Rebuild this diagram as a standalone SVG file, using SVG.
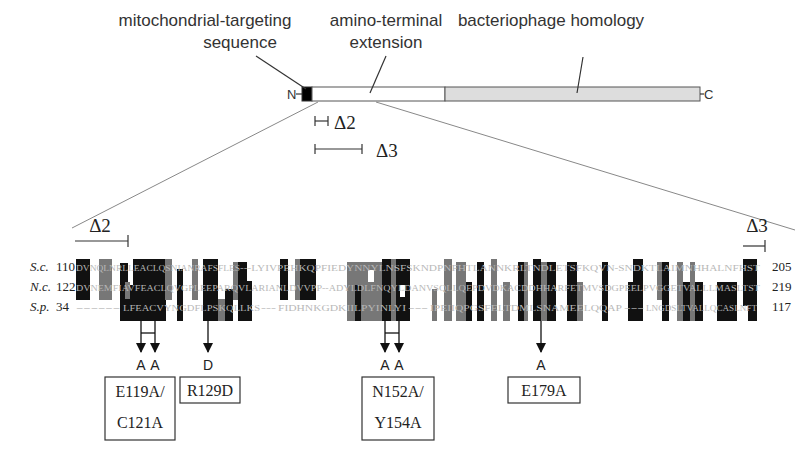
<svg xmlns="http://www.w3.org/2000/svg" width="800" height="457" viewBox="0 0 800 457">
<defs>
<style>
.lab{font-family:"Liberation Sans",Arial,sans-serif;font-size:17px;fill:#333}
.nc{font-family:"Liberation Sans",Arial,sans-serif;font-size:13px;fill:#333}
.del{font-family:"Liberation Serif","Times New Roman",serif;font-size:19px;fill:#222}
.sp{font-family:"Liberation Serif","Times New Roman",serif;font-size:13px;font-style:italic;fill:#222}
.num{font-family:"Liberation Serif","Times New Roman",serif;font-size:13px;fill:#222}
.seq{font-family:"Liberation Serif","Times New Roman",serif;font-size:9px;fill:#b8b8b8}
.mut{font-family:"Liberation Sans",Arial,sans-serif;font-size:14px;fill:#222}
.box{font-family:"Liberation Serif","Times New Roman",serif;font-size:16px;fill:#222}
.ln{stroke:#333;stroke-width:1.2;fill:none}
.zl{stroke:#888;stroke-width:1;fill:none}
.b{fill:#111}
.g{fill:#777}
.w{fill:#fff}
.ar{stroke:#111;stroke-width:1.3;fill:none}
.bx{fill:#fff;stroke:#333;stroke-width:1.2}
</style>
<marker id="ah" markerWidth="10" markerHeight="10" refX="9" refY="5" orient="auto" markerUnits="userSpaceOnUse">
<path d="M0,0 L10,5 L0,10 Z" fill="#111"/>
</marker>
</defs>
<rect width="800" height="457" fill="#fff"/>

<g id="protein">
<line class="ln" x1="296" y1="94" x2="302" y2="94"/>
<text class="nc" x="287" y="99">N</text>
<rect x="302" y="87" width="10" height="14" fill="#000" stroke="#333"/>
<rect x="312" y="87" width="133" height="14" fill="#fff" stroke="#555"/>
<rect x="445" y="87" width="255" height="14" fill="#ddd" stroke="#555"/>
<line class="ln" x1="700" y1="94" x2="704" y2="94"/>
<text class="nc" x="704" y="99">C</text>
</g>

<g id="labels-top">
<text class="lab" x="205" y="26" text-anchor="middle">mitochondrial-targeting</text>
<text class="lab" x="240" y="48" text-anchor="middle">sequence</text>
<text class="lab" x="386" y="26" text-anchor="middle">amino-terminal</text>
<text class="lab" x="386" y="48" text-anchor="middle">extension</text>
<text class="lab" x="551" y="26" text-anchor="middle">bacteriophage homology</text>
</g>

<g id="connectors">
<line class="ln" x1="256" y1="56" x2="306" y2="89"/>
<line class="ln" x1="386" y1="56" x2="370" y2="93"/>
<line class="ln" x1="583" y1="57" x2="577" y2="93"/>
<line class="zl" x1="318" y1="102" x2="72" y2="228"/>
<line class="zl" x1="376" y1="102" x2="795" y2="230"/>
</g>

<g id="deletions">
<line class="ln" x1="315" y1="121" x2="328" y2="121"/>
<line class="ln" x1="315" y1="116" x2="315" y2="126"/>
<line class="ln" x1="328" y1="116" x2="328" y2="126"/>
<text class="del" x="334" y="129">Δ2</text>
<line class="ln" x1="315" y1="149" x2="362" y2="149"/>
<line class="ln" x1="315" y1="144" x2="315" y2="154"/>
<line class="ln" x1="362" y1="144" x2="362" y2="154"/>
<text class="del" x="376" y="157">Δ3</text>
<line class="ln" x1="75" y1="241" x2="128" y2="241"/>
<line class="ln" x1="128" y1="235" x2="128" y2="247"/>
<text class="del" x="100" y="232" text-anchor="middle">Δ2</text>
<line class="ln" x1="743" y1="246" x2="765" y2="246"/>
<line class="ln" x1="765" y1="240" x2="765" y2="252"/>
<text class="del" x="757" y="232" text-anchor="middle">Δ3</text>
</g>

<g id="blocks">
<rect class="b" x="76" y="259" width="14" height="41"/>
<rect class="g" x="99" y="259" width="13" height="41"/>
<rect class="b" x="120" y="263" width="8" height="58"/>
<rect class="b" x="133" y="259" width="33" height="62"/>
<rect class="b" x="128" y="285" width="5" height="36"/>
<rect class="g" x="125" y="282" width="5" height="17"/>
<rect class="g" x="165" y="259" width="7" height="41"/>
<rect class="b" x="177" y="269" width="6" height="52"/>
<rect class="g" x="192" y="259" width="6" height="41"/>
<rect class="b" x="203" y="259" width="15" height="62"/>
<rect class="g" x="218" y="299" width="7" height="22"/>
<rect class="b" x="225" y="289" width="8" height="32"/>
<rect class="g" x="233" y="262" width="5" height="38"/>
<rect class="b" x="238" y="262" width="9" height="59"/>
<rect class="b" x="247" y="281" width="5" height="40"/>
<rect class="b" x="280" y="259" width="8" height="41"/>
<rect class="g" x="295" y="259" width="5" height="41"/>
<rect class="b" x="300" y="259" width="16" height="41"/>
<rect class="g" x="347" y="262" width="35" height="59"/>
<rect class="w" x="368" y="270" width="6" height="12"/>
<rect class="b" x="355" y="285" width="6" height="36"/>
<rect class="b" x="382" y="259" width="9" height="62"/>
<rect class="g" x="391" y="259" width="5" height="62"/>
<rect class="b" x="396" y="259" width="14" height="62"/>
<rect class="w" x="400" y="285" width="5" height="12"/>
<rect class="g" x="432" y="289" width="5" height="32"/>
<rect class="g" x="444" y="259" width="8" height="62"/>
<rect class="g" x="456" y="262" width="10" height="59"/>
<rect class="b" x="466" y="282" width="6" height="39"/>
<rect class="b" x="477" y="262" width="7" height="59"/>
<rect class="g" x="491" y="259" width="6" height="62"/>
<rect class="g" x="503" y="282" width="7" height="39"/>
<rect class="b" x="518" y="262" width="6" height="59"/>
<rect class="g" x="524" y="262" width="4" height="59"/>
<rect class="b" x="533" y="259" width="8" height="62"/>
<rect class="g" x="541" y="262" width="6" height="59"/>
<rect class="b" x="547" y="262" width="9" height="59"/>
<rect class="b" x="567" y="262" width="10" height="59"/>
<rect class="g" x="577" y="282" width="6" height="39"/>
<rect class="b" x="602" y="262" width="6" height="59"/>
<rect class="b" x="628" y="282" width="7" height="39"/>
<rect class="b" x="633" y="259" width="10" height="62"/>
<rect class="g" x="657" y="262" width="5" height="38"/>
<rect class="b" x="662" y="262" width="7" height="59"/>
<rect class="g" x="677" y="262" width="6" height="59"/>
<rect class="b" x="683" y="282" width="7" height="39"/>
<rect class="g" x="690" y="262" width="5" height="59"/>
<rect class="b" x="695" y="282" width="8" height="39"/>
<rect class="b" x="717" y="282" width="20" height="39"/>
<rect class="b" x="743" y="259" width="14" height="62"/>
<rect class="w" x="743" y="306" width="5" height="15"/>
</g>

<g id="sequences">
<text class="sp" x="30" y="271">S.c.</text>
<text class="num" x="56" y="271">110</text>
<text class="sp" x="30" y="291">N.c.</text>
<text class="num" x="56" y="291">122</text>
<text class="sp" x="30" y="311">S.p.</text>
<text class="num" x="56" y="311">34</text>
<text class="num" x="772" y="271">205</text>
<text class="num" x="772" y="291">219</text>
<text class="num" x="772" y="311">117</text>
<text class="seq" x="76" y="271" textLength="164" lengthAdjust="spacingAndGlyphs">DVNQLNRLLEACLQSNIANRAFSFLES</text>
<text class="seq" x="240" y="271" textLength="520" lengthAdjust="spacingAndGlyphs">---LYIVPEHKQPFIEDYNNYLNSFSKNDPNFHTLANNKRLTNDLETSFKQVN-SNDKTLAIMNHHALNFHST</text>
<text class="seq" x="76" y="291" textLength="246" lengthAdjust="spacingAndGlyphs">DVNEMFIAVFEACLQVGPLEEPARQVLARIANLDVVPP</text>
<text class="seq" x="322" y="291" textLength="438" lengthAdjust="spacingAndGlyphs">--ADYLDLFNQYLDANVSQLLQEPDVDKACDDHHARFETMVSDGPEELPVGGETVALLLMASLTST</text>
<text class="seq" x="76" y="311" textLength="44" lengthAdjust="spacingAndGlyphs">------</text>
<text class="seq" x="123" y="311" textLength="137" lengthAdjust="spacingAndGlyphs">LFEACVYNGDFLPSKQLLKS</text>
<text class="seq" x="261" y="311" textLength="15" lengthAdjust="spacingAndGlyphs">---</text>
<text class="seq" x="278" y="311" textLength="128" lengthAdjust="spacingAndGlyphs">FIDHNKGDKIILPYINLYI</text>
<text class="seq" x="408" y="311" textLength="20" lengthAdjust="spacingAndGlyphs">---</text>
<text class="seq" x="430" y="311" textLength="192" lengthAdjust="spacingAndGlyphs">IPEIIQPGSFELTDMLSNAMEELQQAP</text>
<text class="seq" x="624" y="311" textLength="20" lengthAdjust="spacingAndGlyphs">---</text>
<text class="seq" x="646" y="311" textLength="111" lengthAdjust="spacingAndGlyphs">LNGDSLTVALLQCASLNFT</text>
</g>

<g id="mutation-arrows">
<line class="ar" x1="141" y1="321" x2="141" y2="352" marker-end="url(#ah)"/>
<line class="ar" x1="155" y1="321" x2="155" y2="352" marker-end="url(#ah)"/>
<line class="ar" x1="141" y1="333" x2="155" y2="333"/>
<line class="ar" x1="208" y1="321" x2="208" y2="352" marker-end="url(#ah)"/>
<line class="ar" x1="385" y1="321" x2="385" y2="352" marker-end="url(#ah)"/>
<line class="ar" x1="399" y1="321" x2="399" y2="352" marker-end="url(#ah)"/>
<line class="ar" x1="385" y1="333" x2="399" y2="333"/>
<line class="ar" x1="541" y1="321" x2="541" y2="352" marker-end="url(#ah)"/>
<text class="mut" x="141" y="370" text-anchor="middle">A</text>
<text class="mut" x="155" y="370" text-anchor="middle">A</text>
<text class="mut" x="208" y="370" text-anchor="middle">D</text>
<text class="mut" x="385" y="370" text-anchor="middle">A</text>
<text class="mut" x="399" y="370" text-anchor="middle">A</text>
<text class="mut" x="541" y="370" text-anchor="middle">A</text>
</g>

<g id="box-E119A">
<rect class="bx" x="105" y="377" width="70" height="63"/>
<text class="box" x="140" y="397" text-anchor="middle">E119A/</text>
<text class="box" x="140" y="428" text-anchor="middle">C121A</text>
</g>
<g id="box-R129D">
<rect class="bx" x="180" y="377" width="60" height="26"/>
<text class="box" x="210" y="396" text-anchor="middle">R129D</text>
</g>
<g id="box-N152A">
<rect class="bx" x="362" y="377" width="72" height="63"/>
<text class="box" x="398" y="397" text-anchor="middle">N152A/</text>
<text class="box" x="398" y="428" text-anchor="middle">Y154A</text>
</g>
<g id="box-E179A">
<rect class="bx" x="508" y="377" width="72" height="26"/>
<text class="box" x="544" y="396" text-anchor="middle">E179A</text>
</g>
</svg>
